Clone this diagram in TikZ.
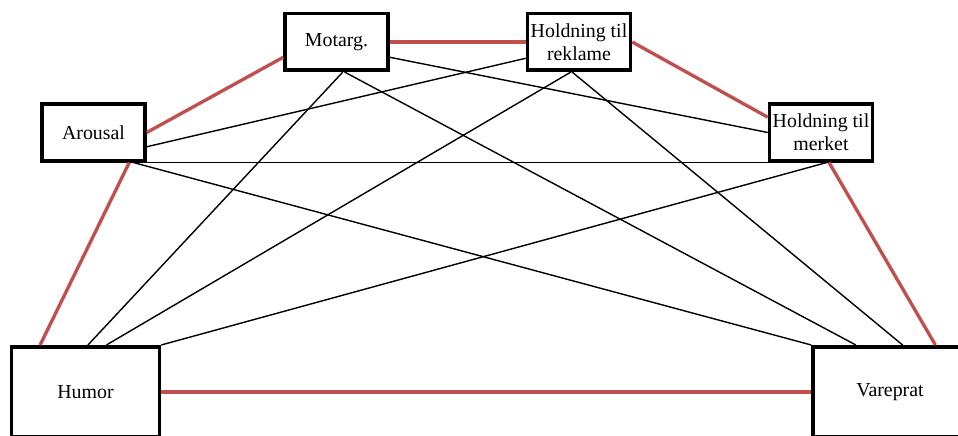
\documentclass[tikz,border=0pt]{standalone}
\usepackage{fontspec}
\setmainfont{Liberation Serif}
\usepackage{xcolor}
\usepackage{tikz}
\usetikzlibrary{positioning}
\definecolor{linkred}{RGB}{192,80,77}

\begin{document}
\begin{tikzpicture}[
    factor/.style={draw=black, line width=2pt, fill=white, minimum width=2.06cm, minimum height=1.13cm, inner sep=0pt, align=center, font=\fontsize{11.3}{13}\selectfont},
    outcome/.style={factor, minimum width=2.96cm, minimum height=1.81cm},
    direct/.style={draw=linkred, line width=1.9pt},
    cross/.style={draw=black, line width=0.8pt}
]
\useasboundingbox (0,0) rectangle (19.16,8.72);
\clip (0,0) rectangle (19.16,8.72);

\node[factor] (arousal) at (1.87,6.07) {Arousal};
\node[factor] (motarg) at (6.73,7.88) {Motarg.};
\node[factor] (reklame) at (11.58,7.88) {Holdning til\\reklame};
\node[factor] (merket) at (16.42,6.07) {Holdning til\\merket};
\node[outcome] (humor) at (1.71,0.88) {Humor};
\node[outcome, minimum width=3.08cm] (vareprat) at (17.80,0.88) {Vareprat};

% black cross links
\draw[cross] (arousal.-15) -- (reklame.197);
\draw[cross] (arousal.south east) -- (merket.south west);
\draw[cross] (arousal.-37) -- (vareprat.north west);
\draw[cross] (motarg.-16) -- (merket.west);
\draw[cross] (motarg.-78) -- (humor.87);
\draw[cross] (motarg.-75) -- (vareprat.126);
\draw[cross] (reklame.255) -- (humor.66);
\draw[cross] (reklame.257) -- (vareprat.75);
\draw[cross] (merket.-79) -- (humor.north east);

% red outer ring
\draw[direct] (arousal.east) -- (motarg.196);
\draw[direct] (motarg.east) -- (reklame.west);
\draw[direct] (reklame.east) -- (merket.164);
\draw[direct] (arousal.-40) -- (humor.134);
\draw[direct] (merket.-75) -- (vareprat.46);
\draw[direct] (humor.east) -- (vareprat.west);
\end{tikzpicture}
\end{document}
